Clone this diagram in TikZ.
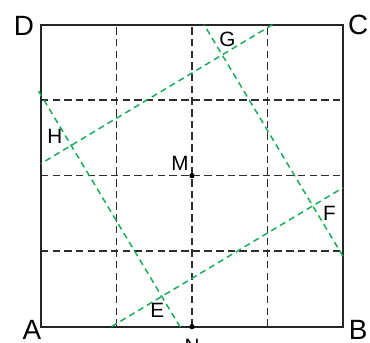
\documentclass[tikz,border=0pt]{standalone}
\usepackage{fontspec}
\setmainfont{Liberation Sans}
\usetikzlibrary{calc,positioning}
\definecolor{foldgreen}{RGB}{20,172,85}
\definecolor{gridgray}{RGB}{45,45,45}

\begin{document}
\begin{tikzpicture}[
  sq/.style={draw=black!85,line width=0.7pt},
  grid/.style={draw=gridgray,line width=0.6pt,dash pattern=on 2.8pt off 1.6pt},
  fold/.style={draw=foldgreen,line width=0.55pt,dash pattern=on 2.3pt off 1.6pt},
  big/.style={font=\fontsize{10.5}{12}\selectfont,inner sep=0pt},
  small/.style={font=\fontsize{7.8}{9}\selectfont,inner sep=0pt},
  dot/.style={circle,fill=black,inner sep=0pt,minimum size=0.7mm}
]
\useasboundingbox (-0.543,-0.216) rectangle (4.358,4.327);
% corners and fold points
\coordinate (a) at (0,0);
\coordinate (b) at (4,0);
\coordinate (c) at (4,4);
\coordinate (d) at (0,4);
\coordinate (e) at (1.6,0.4);
\coordinate (f) at (3.6,1.6);
\coordinate (g) at (2.4,3.6);
\coordinate (h) at (0.4,2.4);
% grid
\draw[grid] (1,0) -- (1,4);
\draw[grid] (2,0) -- (2,4);
\draw[grid] (3,0) -- (3,4);
\draw[grid] (0,1) -- (4,1);
\draw[grid] (0,2) -- (4,2);
\draw[grid] (0,3) -- (4,3);
\draw[sq] (a) -- (b) -- (c) -- (d) -- cycle;
% folds
\draw[fold] ($(h)!-0.36!(e)$) -- ($(h)!1.21!(e)$);
\draw[fold] ($(e)!-0.333!(f)$) -- ($(e)!1.2!(f)$);
\draw[fold] ($(f)!-0.333!(g)$) -- ($(f)!1.2!(g)$);
\draw[fold] ($(g)!-0.333!(h)$) -- ($(g)!1.2!(h)$);
\node[dot] (m) at (2,2) {};
\node[dot] (n) at (2,0) {};
% labels
\node[big] (la) at (-0.12,-0.045) {A};
\node[big] (lb) at (4.2,-0.045) {B};
\node[big] (lc) at (4.2,4.0) {C};
\node[big] (ld) at (-0.225,3.98) {D};
\node[small] (lm) at (1.84,2.16) {M};
\node[small] (ln) at (2.0,-0.26) {N};
\node[small] (le) at (1.54,0.21) {E};
\node[small] (lf) at (3.82,1.50) {F};
\node[small] (lg) at (2.47,3.81) {G};
\node[small] (lh) at (0.185,2.52) {H};
\end{tikzpicture}
\end{document}
